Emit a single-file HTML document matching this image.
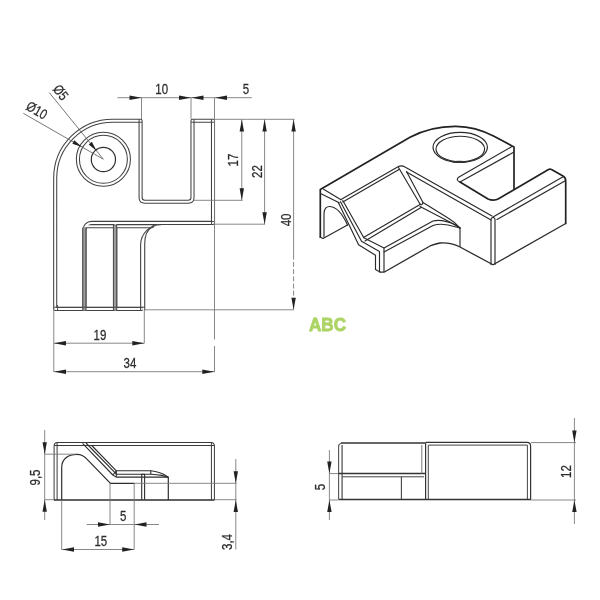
<!DOCTYPE html>
<html><head><meta charset="utf-8">
<style>
html,body{margin:0;padding:0;background:#fff;width:600px;height:600px;overflow:hidden}
svg{display:block;will-change:transform}
text{font-family:"Liberation Sans",sans-serif;fill:#2b2b2b;stroke:#2b2b2b;stroke-width:0.25}
</style></head><body>
<svg width="600" height="600" viewBox="0 0 600 600">
<defs>
<path id="ah" d="M0,0 L-12,-2.2 L-12,2.2 Z"/>
<path id="ah2" d="M0,0 L-10,-2 L-10,2 Z"/>
<g id="fvT">
  <path d="M55.2,309 V178 A57.5,57.5 0 0 1 112.7,120.7 H140.6 V197.6 Q140.6,201.8 144.8,201.8 H188.3 Q192.5,201.8 192.5,197.6 V120.8 H213 V222.9 H91.5 A7,7 0 0 0 84.5,229.9 V309 Z"/>
  <path stroke-linecap="butt" d="M84.5,309 H142.6"/>
  <path d="M86,226.2 H152"/>
  <path d="M115.3,224 V309"/>
  <circle cx="103.4" cy="159.3" r="25.5"/>
</g>
<g id="blT" stroke-linecap="butt">
  <path d="M55.6,500 V446 Q55.6,444 57.6,444 H211 Q212.9,444 212.9,446 V500"/>
</g>
</defs>

<!-- ===== FRONT VIEW ===== -->
<g fill="none" stroke-linejoin="round" stroke-linecap="round">
  <use href="#fvT" stroke="#424242" stroke-width="4.1"/>
  <use href="#fvT" stroke="#fff" stroke-width="2.0"/>
</g>
<circle cx="103.4" cy="159.5" r="12.1" fill="none" stroke="#2e2e2e" stroke-width="1.2"/>
<rect x="82.2" y="227.5" width="4.3" height="83.1" fill="#505050"/><rect x="83.3" y="227.5" width="2.1" height="83.1" fill="#9c9c9c"/>
<rect x="112.9" y="224.6" width="4.3" height="86" fill="#505050"/><rect x="114" y="225.4" width="2.1" height="85.2" fill="#9c9c9c"/>
<path d="M53.6,307.2 H144.7 M57.6,305 V310.4" stroke="#4a4a4a" stroke-width="1" fill="none"/>
<path d="M139.1,119.2 V122.2 H142.1 M194,119.3 V122.3 H191 M211.5,119.3 V122.3 H214.5 M211.5,224.4 V221.4 H214.5" stroke="#4a4a4a" stroke-width="1.05" fill="none"/>
<path d="M140.6,310.2 V245 A20.4,20.4 0 0 1 161,224.6 M144.7,310.2 V243.8 C144.7,236 147,230 151.7,227.2" stroke="#4a4a4a" stroke-width="1.15" fill="none"/>

<!-- dimension lines front -->
<g stroke="#7a7a7a" stroke-width="0.9" fill="none">
  <path d="M117.5,97.7 H251.7"/>
  <path d="M141.5,97.7 V119 M191,97.7 V119 M214.5,97.7 V339.5 M214.5,346 V372"/>
  <path d="M293.6,254.7 V309.8" stroke-dasharray="5 2.2"/>
  <path d="M214,119.3 H294.5 M194,200.3 H242.6 M214,224.2 H265 M144,309.8 H293.6"/>
  <path d="M241.8,119.3 V200.3 M264.6,119.3 V224.2 M293.6,119.3 V254.7"/>
  <path d="M53.8,309 V372 M144.3,309 V343.2"/>
  <path d="M53.8,343.2 H144.3 M53.8,371.7 H214.3"/>
</g><g stroke="#555" stroke-width="0.8" fill="none">
  <path d="M23.3,113.3 L103.3,159.2 M49.2,92.5 L103.3,159.2"/>
</g>
<g fill="#222">
  <use href="#ah" transform="translate(141.5,97.7)"/>
  <use href="#ah" transform="translate(191,97.7)"/>
  <use href="#ah" transform="translate(191.5,97.7) rotate(180)"/>
  <use href="#ah" transform="translate(215,97.7) rotate(180)"/>
  <use href="#ah" transform="translate(241.8,119.5) rotate(-90)"/>
  <use href="#ah" transform="translate(241.8,200.3) rotate(90)"/>
  <use href="#ah" transform="translate(264.6,119.5) rotate(-90)"/>
  <use href="#ah" transform="translate(264.6,224.2) rotate(90)"/>
  <use href="#ah" transform="translate(293.6,119.5) rotate(-90)"/>
  <use href="#ah" transform="translate(293.6,309.8) rotate(90)"/>
  <use href="#ah" transform="translate(54,343.2) rotate(180)"/>
  <use href="#ah" transform="translate(144.3,343.2)"/>
  <use href="#ah" transform="translate(54,371.7) rotate(180)"/>
  <use href="#ah" transform="translate(214.3,371.7)"/>
  <use href="#ah2" transform="translate(82,146.9) rotate(29.8)"/>
  <use href="#ah2" transform="translate(96.6,150.9) rotate(51)"/>
</g>
<g font-size="14">
  <text transform="translate(161.7,94) scale(0.82,1)" text-anchor="middle">10</text>
  <text transform="translate(246,94) scale(0.82,1)" text-anchor="middle">5</text>
  <text transform="translate(238.3,160) rotate(-90) scale(0.82,1)" text-anchor="middle">17</text>
  <text transform="translate(262,171.5) rotate(-90) scale(0.82,1)" text-anchor="middle">22</text>
  <text transform="translate(291,219.9) rotate(-90) scale(0.82,1)" text-anchor="middle">40</text>
  <text transform="translate(100,339.5) scale(0.82,1)" text-anchor="middle">19</text>
  <text transform="translate(130,368) scale(0.82,1)" text-anchor="middle">34</text>
  <text transform="translate(34.3,114.5) rotate(29.8) scale(0.82,1)" text-anchor="middle">Ø10</text>
  <text transform="translate(57,95.5) rotate(51) scale(0.82,1)" text-anchor="middle">Ø5</text>
</g>

<!-- ===== BOTTOM LEFT VIEW ===== -->
<g fill="none" stroke-linejoin="round" stroke-linecap="round">
  <use href="#blT" stroke="#3a3a3a" stroke-width="4.0"/>
  <use href="#blT" stroke="#fff" stroke-width="2.0"/>
</g>
<g fill="none" stroke="#2e2e2e" stroke-width="1.3">
  <path d="M54,500 H214.5"/>
</g>


<g fill="none" stroke="#2e2e2e" stroke-width="1.1" stroke-linejoin="round">
  <path d="M82.6,443.4 L112.8,475 L116.3,477.1 H168.3"/>
  <path d="M86,443 L114.7,472.4 L116.3,474.2 H150.8 Q157,474.4 161.7,475.4 L168.3,477.1"/>
  <path d="M91.75,445.5 L116.3,470.8 H150.8 Q160,471.5 168.3,477.1"/>
  <path d="M112.8,475 L116.3,470.8 V477.1 M150.8,470.8 V474.2"/>
  <path d="M141.7,499.7 V474.2 H144.6 V499.7"/>
</g>
<path d="M211.4,442.5 V445.5 H214.4 M57.1,442.5 V445.5 H54.1" stroke="#3a3a3a" stroke-width="1" fill="none"/>
<g fill="none" stroke="#2e2e2e" stroke-width="1.2">
  <path d="M61.7,500 V467.5 C61.7,459 68,454.3 77,454.3 C81,454.3 84,455.8 86.7,458.8 L110.5,483.4 H134.6"/>
  <path d="M168.3,477 V500"/>
</g>
<!-- ===== BOTTOM RIGHT VIEW ===== -->
<g fill="none" stroke-linejoin="round">
  <path d="M338.6,499.6 V446.5 Q338.6,443.6 341.5,443.2" stroke="#555" stroke-width="1.1"/>
  <path d="M341,443 H425.6" stroke="#333" stroke-width="1.5"/>
  <path d="M342.1,445 V499.6" stroke="#777" stroke-width="1.6"/>
  <path d="M338.6,473.6 H425.6" stroke="#333" stroke-width="1.5"/>
  <path d="M342.1,476.8 H424" stroke="#444" stroke-width="1"/>
  <path d="M401.4,476.8 V499.6" stroke="#444" stroke-width="1.1"/>
  <path d="M421.8,445 V473.6" stroke="#777" stroke-width="1"/>
  <path d="M425.6,443 V499.6" stroke="#333" stroke-width="1.2"/>
  <path d="M428.3,445.1 V499.6" stroke="#444" stroke-width="1"/>
  <path d="M425.6,442.4 H527 Q530.6,442.4 530.6,446 V499.6" stroke="#333" stroke-width="1.2"/>
  <path d="M428.3,445.1 H527.4 V499.6" stroke="#444" stroke-width="1"/>
  <path d="M338.6,499.6 H531" stroke="#333" stroke-width="1.5"/>
</g>

<!-- ===== ISO VIEW ===== -->
<g fill="none" stroke="#222" stroke-width="1.7" stroke-linejoin="round" stroke-linecap="round">
  <path d="M320.3,237 V189.4 L410,137.2 C425.5,129 440,126.2 456,126.3 C472,126.5 484,131 494,136.2 L514,146.9 V188.5"/>
  <path d="M460,182 L488,199 Q494,201.5 499,198.5 L548.5,169.6 Q550,168.7 551.5,169.6 L563,176.1 Q565.7,177.7 565.7,181 V223.5"/>
</g>
<g fill="none" stroke="#2a2a2a" stroke-width="1.3" stroke-linejoin="round" stroke-linecap="round">
  <path d="M565.7,223.5 L493,264.8 L460,247 C453,243.5 447,242.5 440,243 C436,243.5 433,244.8 430,246 L384,272.2 L380,272.2"/>
</g>
<g fill="none" stroke="#2a2a2a" stroke-width="1.15" stroke-linejoin="round" stroke-linecap="round">
  <path d="M323.6,189.3 L341,199.8"/>
  <path d="M321,193.8 L339.2,202.8"/>
  <path d="M341,199.5 L398,166.7 Q401.5,164.8 405,167 L492,216"/>
  <path d="M342.8,202 L399,169.5"/>
  <path d="M406.5,172 L491,220"/>
  <path d="M398.5,167.5 L420,204 Q422,206 423,202.5 L406.5,171.5"/>
  <path d="M338.2,202.3 L358.6,244.8 L375.5,255.3 V269.5 L380,272"/>
  <path d="M340.5,201.7 L361.5,241.3 L379.5,251.5 V271.5"/>
  <path d="M342.8,200.5 L363.8,237.8 L384,248 V271.5"/>
  <path d="M363.5,237.5 L420,204.5"/>
  <path d="M365,241 L421.5,207.3"/>
  <path d="M423,202.5 L448,218 Q455,222 460,228"/>
  <path d="M420,206.5 L446,220 Q454,224 460,228"/>
  <path d="M384,248 L433,221 Q442,218.5 456,225 L460,228"/>
  <path d="M384,252 L433,225.5 Q442,222.5 456,227 L460,228"/>
  <path d="M460,228 V246.5"/>
  <path d="M491,264.5 V219 Q493,215.8 495,219 V264.5"/>
  <path d="M563.5,176.6 L493,217"/>
  <path d="M565.3,180.8 L497,219.5"/>
  <path d="M512,146.5 L459,177 Q455,180 460,182"/>
  <path d="M514,152 L460,182"/>
  <path d="M324,237 V213.5 C324,208 327,206.3 330,206.5 C337,207 343,215 347.5,225"/>
  <path d="M320,237 L323,238.5 L347.5,225"/>
  <ellipse cx="460.2" cy="147.3" rx="27.2" ry="15" stroke-width="1.2"/>
  <ellipse cx="460.3" cy="149" rx="24.3" ry="12.8"/>
</g>
<ellipse cx="459" cy="161.9" rx="7" ry="1.2" fill="#333"/>

<!-- ===== BOTTOM DIMS ===== -->
<g stroke="#7a7a7a" stroke-width="0.9" fill="none">
  <path d="M44.7,430 V520 M44.7,454.2 H76 M44.7,499.7 H54"/>
  <path d="M235.8,459 V549.5 M134.6,483.3 H236.7 M214.5,499.7 H236.7"/>
  <path d="M86.7,524.5 H159 M110,483.3 V524.5 M134.2,483.3 V549.5"/>
  <path d="M61.7,500 V549.5 M61.7,549.5 H134.2"/>
  <path d="M329.4,450 V520 M329.4,473.6 H338 M329.4,500 H338"/>
  <path d="M574.4,418 V524 M531,442.6 H576 M531,500 H576"/>
</g>
<g fill="#222">
  <use href="#ah" transform="translate(44.7,454.2) rotate(90)"/>
  <use href="#ah" transform="translate(44.7,499.7) rotate(-90)"/>
  <use href="#ah" transform="translate(235.8,483.3) rotate(90)"/>
  <use href="#ah" transform="translate(235.8,499.9) rotate(-90)"/>
  <use href="#ah" transform="translate(110,524.5)"/>
  <use href="#ah" transform="translate(134.5,524.5) rotate(180)"/>
  <use href="#ah" transform="translate(62,549.5) rotate(180)"/>
  <use href="#ah" transform="translate(134.2,549.5)"/>
  <use href="#ah" transform="translate(329.4,473.6) rotate(90)"/>
  <use href="#ah" transform="translate(329.4,500) rotate(-90)"/>
  <use href="#ah" transform="translate(574.4,442.6) rotate(90)"/>
  <use href="#ah" transform="translate(574.4,500) rotate(-90)"/>
</g>
<g font-size="14">
  <text transform="translate(39.8,477.5) rotate(-90) scale(0.82,1)" text-anchor="middle">9,5</text>
  <text transform="translate(232.3,542) rotate(-90) scale(0.82,1)" text-anchor="middle">3,4</text>
  <text transform="translate(123.3,520.5) scale(0.82,1)" text-anchor="middle">5</text>
  <text transform="translate(100.8,546) scale(0.82,1)" text-anchor="middle">15</text>
  <text transform="translate(325,487) rotate(-90) scale(0.82,1)" text-anchor="middle">5</text>
  <text transform="translate(571,471.5) rotate(-90) scale(0.82,1)" text-anchor="middle">12</text>
</g>

<!-- ABC watermark -->
<text x="309" y="331" font-size="19" font-weight="bold" style="fill:#acd464;stroke:#acd464;stroke-width:0.9" textLength="37" lengthAdjust="spacingAndGlyphs">ABC</text>
</svg>
</body></html>
